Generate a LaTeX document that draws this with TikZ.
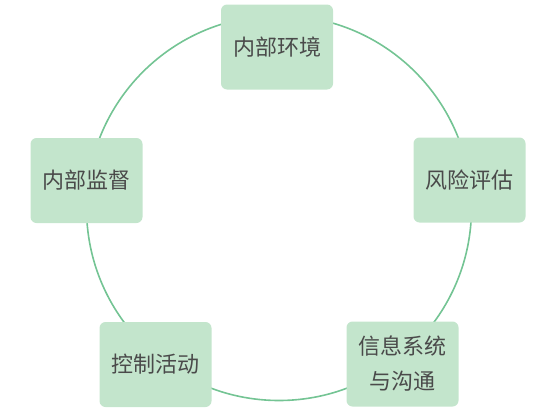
\documentclass[tikz,border=0pt]{standalone}
\usepackage{fontspec}
\newfontfamily\cjk{Noto Sans CJK SC}
\usepackage{xcolor}
\definecolor{ring}{HTML}{74C494}
\definecolor{tint}{HTML}{C3E5CC}
\definecolor{ink}{HTML}{4A4A4A}
\tikzset{
  part/.style={fill=tint,rounded corners=6pt,minimum width=112pt,minimum height=85pt,inner sep=0pt,
    align=center,text=ink,font=\cjk\fontsize{22}{35}\selectfont}
}
\begin{document}
\begin{tikzpicture}[x=1pt,y=-1pt]
\useasboundingbox (0,0) rectangle (549,415);
\draw[ring,line width=1.6pt] (279,208) circle[radius=192.5];
\node[part] (env) at (277,47) {内部环境};
\node[part] (risk) at (469.5,180) {风险评估};
\node[part] (info) at (402.5,364) {信息系统\\与沟通};
\node[part] (ctrl) at (155.5,364.5) {控制活动};
\node[part] (mon) at (86.5,180.5) {内部监督};
\end{tikzpicture}
\end{document}
